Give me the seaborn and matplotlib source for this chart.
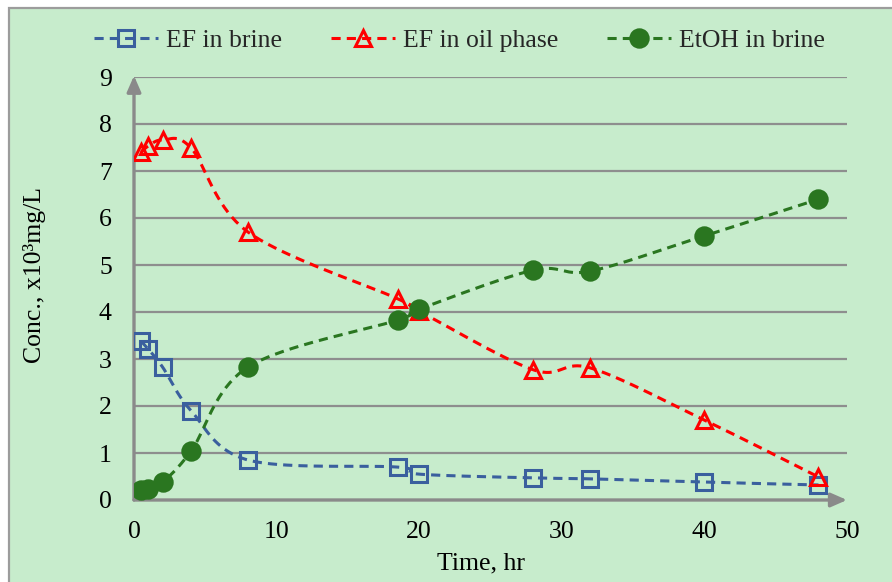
import numpy as np
import pandas as pd
import matplotlib
matplotlib.use("Agg")
import matplotlib.pyplot as plt
from matplotlib.patches import Rectangle
from matplotlib.lines import Line2D
import seaborn as sns

# ---------------- data ----------------
time_hr = [0.5, 1, 2, 4, 8, 18.5, 20, 28, 32, 40, 48]
ef_brine = [3.38, 3.21, 2.83, 1.90, 0.85, 0.70, 0.55, 0.47, 0.45, 0.38, 0.32]
ef_oil = [7.40, 7.53, 7.66, 7.49, 5.70, 4.28, 4.02, 2.77, 2.81, 1.70, 0.49]
etoh_brine = [0.21, 0.23, 0.38, 1.04, 2.83, 3.83, 4.06, 4.89, 4.87, 5.62, 6.40]

series_names = ["EF in brine", "EF in oil phase", "EtOH in brine"]
series_values = [ef_brine, ef_oil, etoh_brine]
x_ticks = [0, 10, 20, 30, 40, 50]
y_ticks = [0, 1, 2, 3, 4, 5, 6, 7, 8, 9]

# ---------------- style ----------------
sns.set_theme(style="white")
plt.rcParams["font.family"] = ["Liberation Serif", "DejaVu Serif"]
FS = 18.5
BG = "#C7ECCC"
GRID = "#8E8E8E"
colors = ["#3A5F9E", "#FF0000", "#2A7620"]
markers = ["s", "^", "o"]
msizes = [11.5, 12, 12.5]
filled = [False, False, True]

W, H = 892, 582
fig = plt.figure(figsize=(W / 100, H / 100), dpi=100, facecolor="white")
fig.patches.append(Rectangle((9 / W, -0.05), 1.2, 1 - 8 / H + 0.05,
                             transform=fig.transFigure, facecolor=BG,
                             edgecolor="#9C9C9C", lw=1.6, zorder=-10))

x0, x1, y0, y1 = 134, 847, 500, 77
ax = fig.add_axes([x0 / W, 1 - y0 / H, (x1 - x0) / W, (y0 - y1) / H])
ax.set_zorder(2)
ax.set_facecolor("none")
ax.set_xlim(0, 50)
ax.set_ylim(0, 9)

# pixel scales for Excel-like smoothing
sx = (x1 - x0) / 50.0
sy = (y0 - y1) / 9.0


def excel_smooth(xs, ys, n=40):
    P = np.column_stack([np.asarray(xs, float) * sx, np.asarray(ys, float) * sy])
    out = [P[0]]
    m = len(P)
    for i in range(m - 1):
        p0 = P[i - 1] if i > 0 else P[i]
        p1, p2 = P[i], P[i + 1]
        p3 = P[i + 2] if i + 2 < m else P[i + 1]
        c1 = p1 + (p2 - p0) / 6.0
        c2 = p2 - (p3 - p1) / 6.0
        t = np.linspace(0, 1, n)[1:, None]
        b = ((1 - t) ** 3) * p1 + 3 * ((1 - t) ** 2) * t * c1 + 3 * (1 - t) * t ** 2 * c2 + t ** 3 * p2
        out.extend(b)
    out = np.array(out)
    return out[:, 0] / sx, out[:, 1] / sy


# grid lines
for yv in y_ticks[1:]:
    ax.axhline(yv, color=GRID, lw=1.6, zorder=1)

for k, (name, vals) in enumerate(zip(series_names, series_values)):
    cx, cy = excel_smooth(time_hr, vals)
    dfl = pd.DataFrame({"x": cx, "y": cy})
    sns.lineplot(data=dfl, x="x", y="y", sort=False, estimator=None, ax=ax,
                 color=colors[k], lw=2.2, dashes=False, linestyle=(0, (3, 2)),
                 zorder=3 + k, legend=False)
    dfm = pd.DataFrame({"x": time_hr, "y": vals})
    sns.lineplot(data=dfm, x="x", y="y", sort=False, estimator=None, ax=ax,
                 linestyle="none", marker=markers[k], markersize=msizes[k],
                 markerfacecolor=colors[k] if filled[k] else "none",
                 markeredgecolor=colors[k], markeredgewidth=2.2,
                 color=colors[k], zorder=3 + k, legend=False)

# axes styling
for s in ax.spines.values():
    s.set_visible(False)
ax.annotate("", xy=(0, 1.003), xytext=(0, 0), xycoords="axes fraction",
            arrowprops=dict(arrowstyle="-|>,head_length=0.8,head_width=0.35",
                            color="#8A8A8A", lw=2.4, shrinkA=0, shrinkB=0), zorder=2)
ax.annotate("", xy=(1.0, 0), xytext=(0, 0), xycoords="axes fraction",
            arrowprops=dict(arrowstyle="-|>,head_length=0.8,head_width=0.35",
                            color="#8A8A8A", lw=2.4, shrinkA=0, shrinkB=0), zorder=2)

ax.set_xticks(x_ticks)
ax.set_yticks(y_ticks)
ax.set_xticklabels([str(v) for v in x_ticks])
ax.set_yticklabels([str(v) for v in y_ticks])
ax.tick_params(axis="x", length=0, pad=15, labelsize=FS, colors="black")
ax.tick_params(axis="y", length=0, pad=16, labelsize=FS, colors="black")
ax.grid(False)

ax.set_xlabel("Time, hr", fontsize=FS, color="black")
ax.set_ylabel("Conc., x10³mg/L", fontsize=FS, color="black")
ax.xaxis.label.set_va("center")
ax.yaxis.label.set_va("center")
ax.xaxis.set_label_coords((481 - x0) / (x1 - x0), (y0 - 563) / (y0 - y1))
ax.yaxis.set_label_coords((35 - x0) / (x1 - x0), (y0 - 275) / (y0 - y1))

# legend
handles = [Line2D([], [], color=colors[k], lw=2.2, linestyle=(0, (3, 2)),
                  marker=markers[k], markersize=msizes[k],
                  markerfacecolor=colors[k] if filled[k] else "none",
                  markeredgecolor=colors[k], markeredgewidth=2.2)
           for k in range(3)]
fig.legend(handles, series_names, loc="center", bbox_to_anchor=(0.515, 1 - 41 / H),
           ncol=3, frameon=False, fontsize=FS, handlelength=2.5, handletextpad=0.3,
           columnspacing=1.9, numpoints=1)

fig.savefig("out.png", dpi=100, facecolor="white")
